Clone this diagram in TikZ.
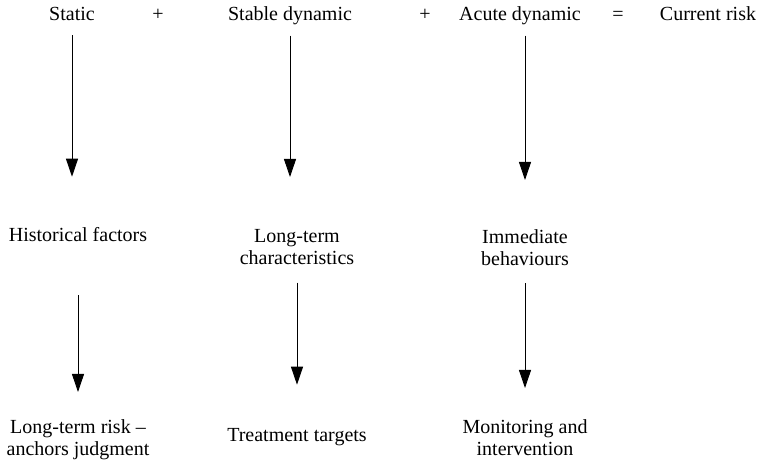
\documentclass[tikz,border=0pt]{standalone}
\usepackage{fontspec}
\setmainfont{Liberation Serif}
\usetikzlibrary{arrows.meta}
\begin{document}
\begin{tikzpicture}[x=1pt,y=-1pt,
  lbl/.style={inner sep=0pt, anchor=base, align=center, font=\fontsize{20}{22}\selectfont},
  arr/.style={draw, line width=0.9pt, -{Triangle[width=12pt,length=18pt]}}]
\useasboundingbox (0,0) rectangle (761,462);
\node[lbl] (static) at (72,21) {Static};
\node[lbl] (plus1) at (158,21) {+};
\node[lbl] (stable) at (290,21) {Stable dynamic};
\node[lbl] (plus2) at (425,21) {+};
\node[lbl] (acute) at (520,21) {Acute dynamic};
\node[lbl] (eq) at (618,21) {=};
\node[lbl] (current) at (708,21) {Current risk};
\node[lbl] (hist) at (78,242) {Historical factors};
\node[lbl, anchor=north] (ltc) at (297,229) {Long-term\\characteristics};
\node[lbl, anchor=north] (imm) at (525,229) {Immediate\\behaviours};
\node[lbl, anchor=north] (ltr) at (78,419) {Long-term risk –\\anchors judgment};
\node[lbl] (tt) at (297,442) {Treatment targets};
\node[lbl, anchor=north] (mon) at (525,419) {Monitoring and\\intervention};
\draw[arr] ([yshift=-14pt]static.south) -- ([yshift=51pt]static.south |- hist.north);
\draw[arr] ([yshift=-10pt]stable.south) -- ([yshift=52pt]stable.south |- ltc.north);
\draw[arr] ([yshift=-10pt]acute.south -| imm.north) -- ([yshift=49pt]imm.north);
\draw[arr] ([yshift=-53pt]hist.south -| ltr.north) -- ([yshift=27pt]ltr.north);
\draw[arr] ([yshift=-18pt]ltc.south) -- ([yshift=44pt]ltc.south |- tt.north);
\draw[arr] ([yshift=-18pt]imm.south) -- ([yshift=31pt]mon.north);
\end{tikzpicture}
\end{document}
